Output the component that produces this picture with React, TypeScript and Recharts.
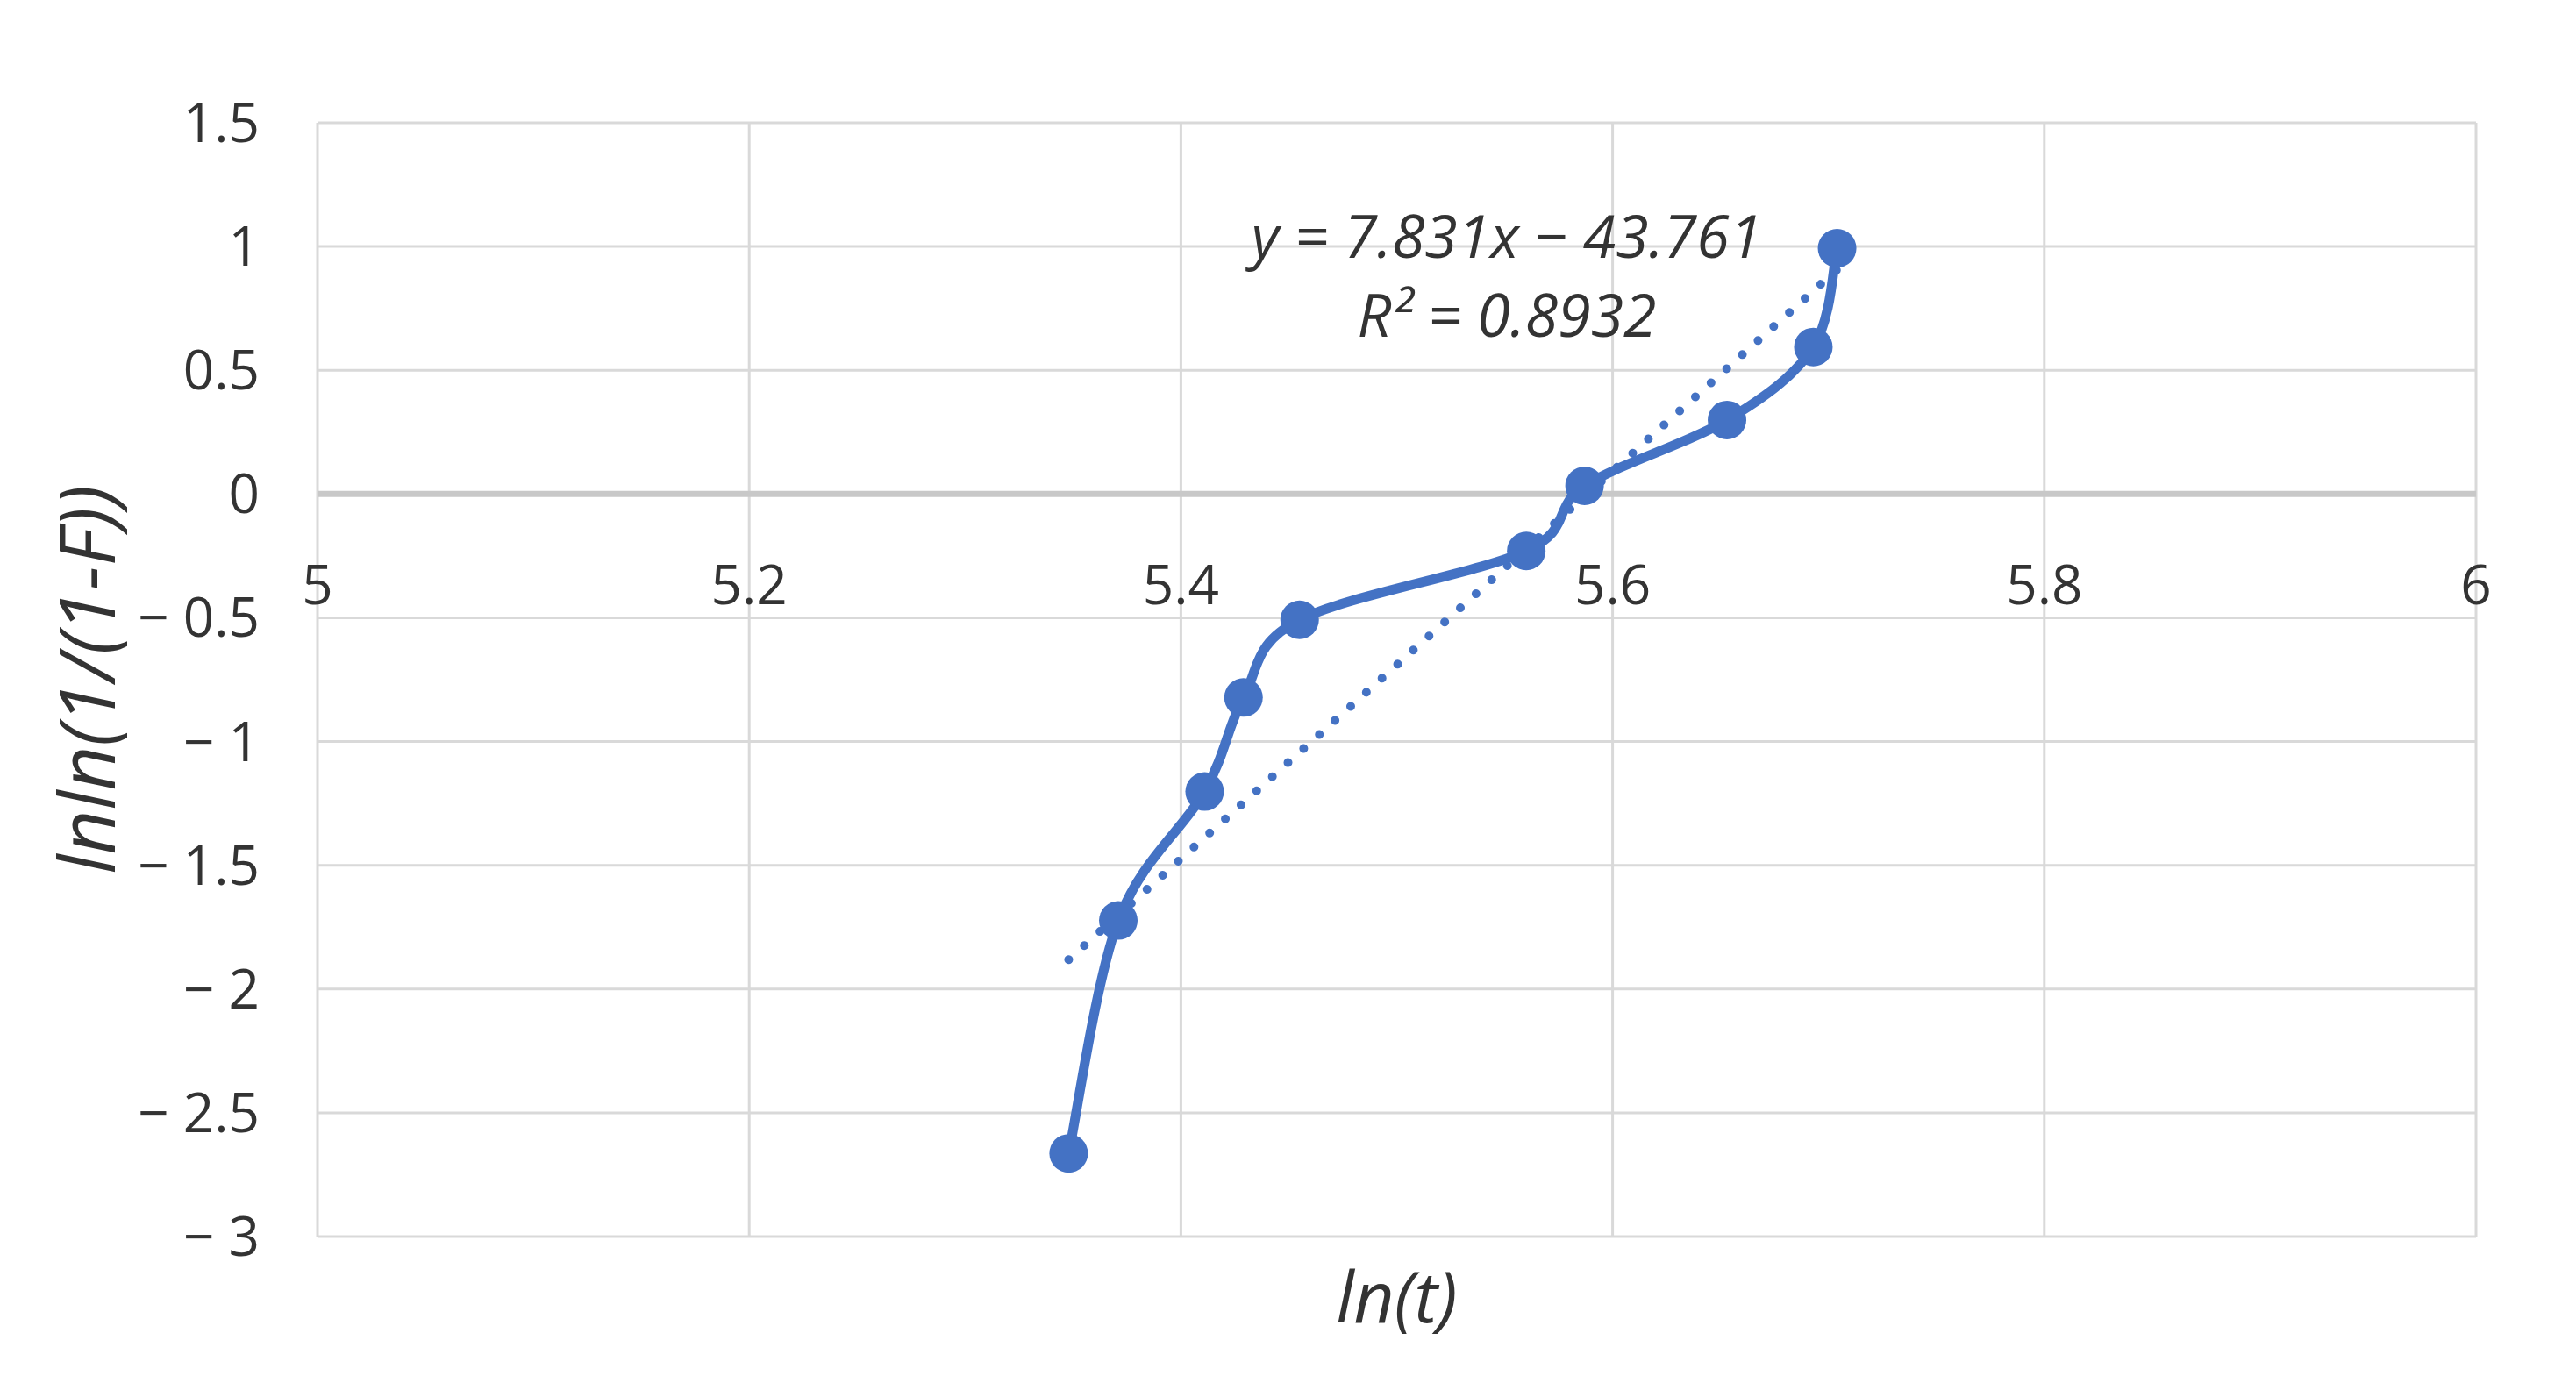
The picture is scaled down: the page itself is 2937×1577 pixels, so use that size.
import React from 'react'
import {
  ComposedChart,
  Line,
  XAxis,
  YAxis,
  CartesianGrid,
  ReferenceLine,
  ReferenceDot,
} from 'recharts'

// ln(t) and lnln(1/(1-F))
const LN_T = [5.348, 5.371, 5.411, 5.429, 5.455, 5.56, 5.587, 5.653, 5.693, 5.704]
const LNLN_F = [-2.664, -1.723, -1.202, -0.822, -0.508, -0.23, 0.033, 0.299, 0.594, 0.993]

// linear trendline ends (y = 7.831x - 43.761 across the data range)
const TREND_X = [5.348, 5.704]
const TREND_Y = [-1.881, 0.907]

const X_TICKS = [5, 5.2, 5.4, 5.6, 5.8, 6]
const Y_TICKS = [-3, -2.5, -2, -1.5, -1, -0.5, 0, 0.5, 1, 1.5]

const EQUATION = 'y = 7.831x \u2212 43.761'
const R_SQUARED = 'R\u00b2 = 0.8932'
const X_TITLE = 'ln(t)'
const Y_TITLE = 'lnln(1/(1-F))'

const points = LN_T.map((x, i) => ({ x, y: LNLN_F[i] }))
const trend = TREND_X.map((x, i) => ({ x, y: TREND_Y[i] }))

const W = 2937
const H = 1577
const PLOT_TOP = 140
const PLOT_BOTTOM = 1410
const PLOT_LEFT = 362
const PLOT_RIGHT = 2823
const Y_AXIS_W = 300
const X_AXIS_H = 40
const Y_MIN = -3
const Y_MAX = 1.5
// Excel draws the x labels where the horizontal axis crosses y = 0
const ZERO_Y = PLOT_TOP + ((Y_MAX - 0) / (Y_MAX - Y_MIN)) * (PLOT_BOTTOM - PLOT_TOP)

const FONT = "'Open Sans', sans-serif"
const TEXT = '#333333'
const BLUE = '#4472C4'

const fmtY = (v: number) => (v < 0 ? '\u2212 ' + Math.abs(v) : String(v))

// Excel-style smoothed line (Catmull-Rom as cubic beziers)
const excelSmooth = (context: any) => {
  let pts: number[][] = []
  return {
    areaStart() {},
    areaEnd() {},
    lineStart() {
      pts = []
    },
    point(x: number, y: number) {
      pts.push([+x, +y])
    },
    lineEnd() {
      if (!pts.length) return
      context.moveTo(pts[0][0], pts[0][1])
      for (let i = 0; i < pts.length - 1; i++) {
        const p0 = pts[i - 1] || pts[i]
        const p1 = pts[i]
        const p2 = pts[i + 1]
        const p3 = pts[i + 2] || pts[i + 1]
        context.bezierCurveTo(
          p1[0] + (p2[0] - p0[0]) / 6,
          p1[1] + (p2[1] - p0[1]) / 6,
          p2[0] - (p3[0] - p1[0]) / 6,
          p2[1] - (p3[1] - p1[1]) / 6,
          p2[0],
          p2[1],
        )
      }
    },
  }
}

const XTick = (props: any) => {
  const { x, payload } = props
  return (
    <text x={x} y={ZERO_Y + 102} textAnchor="middle" dominantBaseline="central" fontSize={62} fill={TEXT} fontFamily={FONT}>
      {payload.value}
    </text>
  )
}

const XTitle = (props: any) => {
  const vb = props.viewBox
  return (
    <text x={vb.x + vb.width / 2} y={vb.y + 98} textAnchor="middle" fontSize={80} fontStyle="italic" fill={TEXT} fontFamily={FONT}>
      {X_TITLE}
    </text>
  )
}

const YTitle = (props: any) => {
  const vb = props.viewBox
  const cx = vb.x + 35
  const cy = vb.y + vb.height / 2
  return (
    <text
      x={cx}
      y={cy}
      transform={`rotate(-90 ${cx} ${cy})`}
      textAnchor="middle"
      dominantBaseline="central"
      fontSize={88}
      fontStyle="italic"
      fill={TEXT}
      fontFamily={FONT}
    >
      {Y_TITLE}
    </text>
  )
}

const EquationLabel = (props: any) => {
  const vb = props.viewBox
  const cx = vb.x + (vb.width || 0) / 2
  const cy = vb.y + (vb.height || 0) / 2
  return (
    <text textAnchor="middle" fontSize={68} fontStyle="italic" fill={TEXT} fontFamily={FONT}>
      <tspan x={cx} y={cy} dominantBaseline="central">{EQUATION}</tspan>
      <tspan x={cx} y={cy + 90} dominantBaseline="central">{R_SQUARED}</tspan>
    </text>
  )
}

export default function App() {
  return (
    <div style={{ position: 'absolute', left: 0, top: 0, width: W, height: H, background: '#fff' }}>
      <ComposedChart
        width={W}
        height={H}
        margin={{
          top: PLOT_TOP,
          right: W - PLOT_RIGHT,
          bottom: H - PLOT_BOTTOM - X_AXIS_H,
          left: PLOT_LEFT - Y_AXIS_W,
        }}
      >
        <CartesianGrid stroke="#d9d9d9" strokeWidth={3} />
        <XAxis
          type="number"
          dataKey="x"
          domain={[5, 6]}
          ticks={X_TICKS}
          interval={0}
          allowDataOverflow
          axisLine={false}
          tickLine={false}
          height={X_AXIS_H}
          tick={XTick}
          label={{ content: XTitle }}
        />
        <YAxis
          type="number"
          domain={[Y_MIN, Y_MAX]}
          ticks={Y_TICKS}
          interval={0}
          allowDataOverflow
          axisLine={false}
          tickLine={false}
          tickSize={0}
          tickMargin={66}
          width={Y_AXIS_W}
          tickFormatter={fmtY}
          tick={{ fontSize: 62, fill: TEXT, fontFamily: FONT }}
          label={{ content: YTitle }}
        />
        <ReferenceLine y={0} stroke="#c8c8c8" strokeWidth={7} />
        <Line
          data={trend}
          dataKey="y"
          type="linear"
          stroke={BLUE}
          strokeWidth={10}
          strokeDasharray="0.01 24"
          strokeLinecap="round"
          dot={false}
          activeDot={false}
          isAnimationActive={false}
        />
        <Line
          data={points}
          dataKey="y"
          type={excelSmooth as any}
          stroke={BLUE}
          strokeWidth={11}
          dot={{ r: 22, fill: BLUE, stroke: BLUE, strokeWidth: 0 }}
          activeDot={false}
          isAnimationActive={false}
        />
        <ReferenceDot x={5.551} y={1.05} r={0} fill="none" stroke="none" label={{ content: EquationLabel }} />
      </ComposedChart>
    </div>
  )
}
